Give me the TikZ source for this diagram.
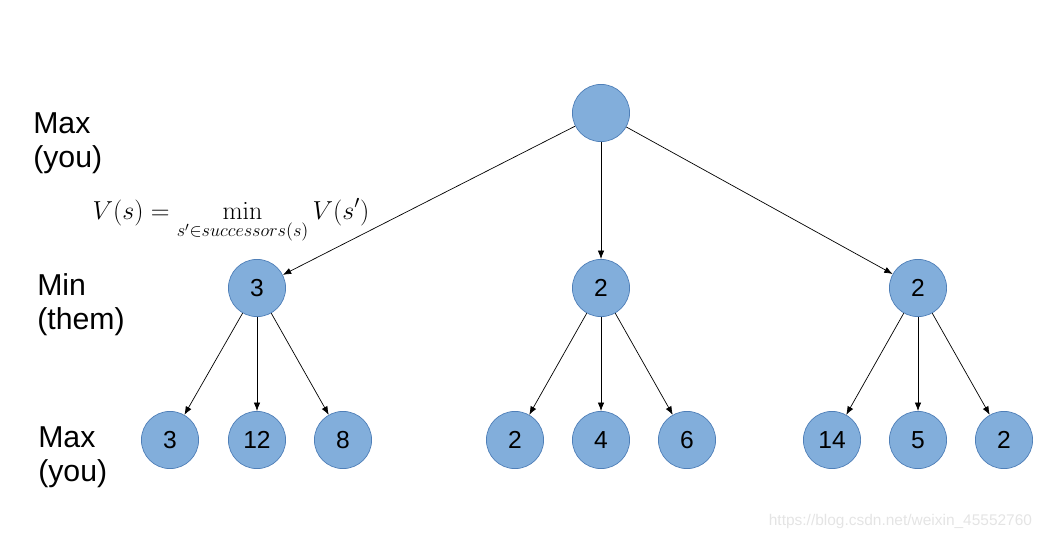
\RequirePackage{fix-cm}
\documentclass[tikz,border=0pt]{standalone}
\usepackage[no-math]{fontspec}
\setmainfont{Liberation Sans}
\usepackage{amsmath}
\usetikzlibrary{arrows.meta}
\definecolor{kreis}{HTML}{82AEDB}
\definecolor{kreisr}{HTML}{4F7FB8}
\definecolor{wasser}{HTML}{E4E4E4}
\tikzset{
  zustand/.style={circle,fill=kreis,draw=kreisr,line width=0.5pt,minimum size=1.43cm,inner sep=0pt,font=\fontsize{17.5}{20}\selectfont},
  kante/.style={-{Latex[length=2.1mm,width=1.6mm]},black,line width=0.5pt},
  ebene/.style={align=left,anchor=west,inner sep=0pt,font=\fontsize{21.5}{24}\selectfont},
}
\begin{document}
\begin{tikzpicture}[x=0.025cm,y=-0.025cm]
  \useasboundingbox (0,0) rectangle (1047,539);
  % Ebenen
  \node[ebene] (lmax) at (33,143) {Max\\(you)};
  \node[ebene] (lmin) at (37,305) {Min\\(them)};
  \node[ebene] (lblatt) at (38,457) {Max\\(you)};
  \node[font=\fontsize{18.5}{22}\selectfont] (formel) at (231,221)
    {$\displaystyle V(s)=\min_{s'\in successors(s)} V(s')$};
  % Knoten
  \node[zustand] (wurzel) at (601,113) {};
  \node[zustand] (mina) at (257,288) {3};
  \node[zustand] (minb) at (601,288) {2};
  \node[zustand] (minc) at (918,288) {2};
  \node[zustand] (a1) at (170,440) {3};
  \node[zustand] (a2) at (257,440) {12};
  \node[zustand] (a3) at (343,440) {8};
  \node[zustand] (b1) at (515,440) {2};
  \node[zustand] (b2) at (601,440) {4};
  \node[zustand] (b3) at (687,440) {6};
  \node[zustand] (c1) at (832,440) {14};
  \node[zustand] (c2) at (918,440) {5};
  \node[zustand] (c3) at (1004,440) {2};
  % Kanten
  \draw[kante] (wurzel) -- (mina);
  \draw[kante] (wurzel) -- (minb);
  \draw[kante] (wurzel) -- (minc);
  \draw[kante] (mina) -- (a1);
  \draw[kante] (mina) -- (a2);
  \draw[kante] (mina) -- (a3);
  \draw[kante] (minb) -- (b1);
  \draw[kante] (minb) -- (b2);
  \draw[kante] (minb) -- (b3);
  \draw[kante] (minc) -- (c1);
  \draw[kante] (minc) -- (c2);
  \draw[kante] (minc) -- (c3);
  \node[wasser,anchor=east,font=\fontsize{11}{13}\selectfont] (marke) at (1037,521) {https://blog.csdn.net/weixin\_45552760};
\end{tikzpicture}
\end{document}
